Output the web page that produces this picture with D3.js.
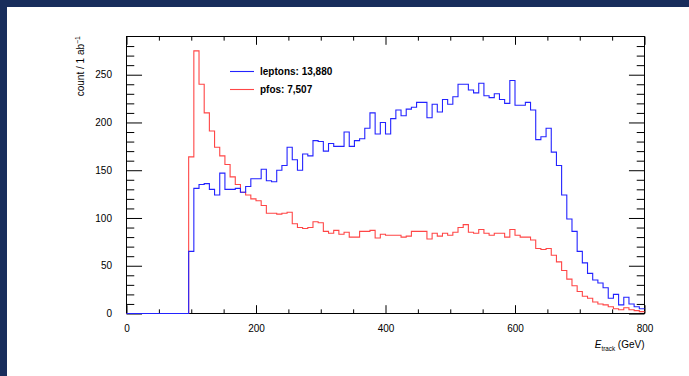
<!DOCTYPE html>
<html>
<head>
<meta charset="utf-8">
<script src="https://cdn.jsdelivr.net/npm/d3@7"></script>
<style>
  html, body { margin: 0; padding: 0; background: #ffffff; }
  svg { display: block; font-family: "Liberation Sans", Arial, Helvetica, sans-serif; }
</style>
</head>
<body>
<svg id="chart" width="689" height="376"></svg>
<script>
// Histogram binning: 100 bins of 8 GeV between 0 and 800 GeV
const xDomain = [0, 800];
const binWidth = 8;
const yDomain = [0, 290];

// Counts per 8 GeV bin (per 1 ab^-1)
const leptons = [
  0, 0, 0, 0, 0, 0, 0, 0, 0, 0, 0, 0,
  65, 131, 135, 136, 130, 124, 147, 130, 130, 131,
  127, 133, 141, 141, 151, 139, 138, 150, 155, 174,
  161, 150, 167, 165, 181, 180, 170, 178, 175, 175,
  190, 175, 181, 183, 194, 210, 188, 200, 188, 204,
  213, 207, 214, 216, 221, 221, 205, 219, 211, 224,
  219, 227, 240, 240, 234, 231, 241, 228, 226, 230,
  224, 220, 244, 218, 218, 221, 213, 182, 185, 194,
  169, 155, 124, 99, 86, 65, 53, 42, 35, 32,
  27, 16, 20, 9, 17, 10, 7, 5
];
const pfos = [
  0, 0, 0, 0, 0, 0, 0, 0, 0, 0, 0, 0,
  164, 275, 240, 210, 191, 174, 165, 156, 143, 135,
  127, 124, 120, 118, 113, 105, 105, 104, 105, 106,
  94, 90, 89, 90, 96, 95, 86, 84, 87, 83,
  85, 80, 80, 86, 86, 87, 79, 83, 82, 82,
  82, 80, 81, 86, 86, 86, 78, 84, 81, 84,
  82, 85, 90, 93, 85, 84, 88, 84, 82, 84,
  84, 80, 88, 82, 80, 80, 77, 68, 67, 68,
  61, 54, 45, 36, 29, 23, 18, 16, 12, 10,
  9, 7, 5, 4, 6, 4, 3, 2
];

const seriesNames = ["leptons", "pfos"];
const seriesColors = ["#2323ff", "#ff4646"];

const xMajorTicks = [0, 200, 400, 600, 800];
const yMajorTicks = [0, 50, 100, 150, 200, 250];

const svg = d3.select("#chart");
const W = 689, H = 376;

// Page frame: dark band along the top and left edges
svg.append("rect").attr("x", 0).attr("y", 0).attr("width", W).attr("height", H).attr("fill", "#ffffff");
svg.append("rect").attr("x", 0).attr("y", 0).attr("width", W).attr("height", 7).attr("fill", "#182d5c");
svg.append("rect").attr("x", 0).attr("y", 0).attr("width", 7).attr("height", H).attr("fill", "#182d5c");

const plot = { left: 126.5, right: 644.5, top: 36.5, bottom: 313.5 };
const x = d3.scaleLinear().domain(xDomain).range([plot.left, plot.right]);
const y = d3.scaleLinear().domain(yDomain).range([plot.bottom, plot.top]);

const plotW = plot.right - plot.left, plotH = plot.bottom - plot.top;
const xTickMajor = 0.03 * plotH, xTickMinor = xTickMajor / 2;
const yTickMajor = 0.03 * plotW, yTickMinor = yTickMajor / 2;

const xMinor = d3.range(xDomain[0], xDomain[1] + 1, 50).filter(v => !xMajorTicks.includes(v));
const yMinor = d3.range(0, yDomain[1], 10).filter(v => !yMajorTicks.includes(v));

// Axes: ticks drawn inward on all four sides
const tickStyle = g => {
  g.select(".domain").remove();
  g.selectAll(".tick line").attr("stroke", "#000").attr("stroke-width", 1);
  g.selectAll(".tick text").attr("fill", "#000").attr("font-size", 10);
};

svg.append("g").attr("transform", `translate(0,${plot.bottom})`)
  .call(d3.axisBottom(x).tickValues(xMajorTicks).tickSize(-xTickMajor).tickPadding(12).tickFormat(d3.format("d")))
  .call(tickStyle)
  .call(g => g.selectAll(".tick text").attr("dy", "0.71em").attr("y", 11));
svg.append("g").attr("transform", `translate(0,${plot.bottom})`)
  .call(d3.axisBottom(x).tickValues(xMinor).tickSize(-xTickMinor).tickFormat(""))
  .call(tickStyle);
svg.append("g").attr("transform", `translate(0,${plot.top})`)
  .call(d3.axisTop(x).tickValues(xMajorTicks).tickSize(-xTickMajor).tickFormat(""))
  .call(tickStyle);
svg.append("g").attr("transform", `translate(0,${plot.top})`)
  .call(d3.axisTop(x).tickValues(xMinor).tickSize(-xTickMinor).tickFormat(""))
  .call(tickStyle);

svg.append("g").attr("transform", `translate(${plot.left},0)`)
  .call(d3.axisLeft(y).tickValues(yMajorTicks).tickSize(-yTickMajor).tickPadding(14.5).tickFormat(d3.format("d")))
  .call(tickStyle);
svg.append("g").attr("transform", `translate(${plot.left},0)`)
  .call(d3.axisLeft(y).tickValues(yMinor).tickSize(-yTickMinor).tickFormat(""))
  .call(tickStyle);
svg.append("g").attr("transform", `translate(${plot.right},0)`)
  .call(d3.axisRight(y).tickValues(yMajorTicks).tickSize(-yTickMajor).tickFormat(""))
  .call(tickStyle);
svg.append("g").attr("transform", `translate(${plot.right},0)`)
  .call(d3.axisRight(y).tickValues(yMinor).tickSize(-yTickMinor).tickFormat(""))
  .call(tickStyle);

// Frame
svg.append("rect")
  .attr("x", plot.left).attr("y", plot.top)
  .attr("width", plotW).attr("height", plotH)
  .attr("fill", "none").attr("stroke", "#000").attr("stroke-width", 1);

// Step outline of a histogram through the scales
function stepPoints(values) {
  const pts = [[xDomain[0], 0]];
  values.forEach((v, i) => {
    const lo = xDomain[0] + i * binWidth;
    pts.push([lo, v], [lo + binWidth, v]);
  });
  return pts;
}
const line = d3.line().x(d => x(d[0])).y(d => y(d[1]));

// Histograms drawn over the frame (pfos first, leptons on top)
const histG = svg.append("g");
[[pfos, seriesColors[1]], [leptons, seriesColors[0]]].forEach(([vals, color]) => {
  histG.append("path")
    .attr("d", line(stepPoints(vals)))
    .attr("fill", "none")
    .attr("stroke", color)
    .attr("stroke-width", 1.1)
    .attr("stroke-linejoin", "miter");
});

// Axis titles
const xt = svg.append("text")
  .attr("x", plot.right).attr("y", 348)
  .attr("text-anchor", "end").attr("font-size", 10).attr("fill", "#000");
xt.append("tspan").attr("font-style", "italic").text("E");
xt.append("tspan").attr("font-size", 6.3).attr("dy", 2.5).text("track");
xt.append("tspan").attr("dy", -2.5).text(" (GeV)");

const yt = svg.append("text")
  .attr("transform", `translate(84,${plot.top - 0.5}) rotate(-90)`)
  .attr("text-anchor", "end").attr("font-size", 10).attr("fill", "#000");
yt.append("tspan").text("count / 1 ab");
yt.append("tspan").attr("font-size", 7).attr("dy", -4).text("\u22121");

// Legend with integrated counts
const fmt = d3.format(",");
const legendData = [
  { name: seriesNames[0], color: seriesColors[0], total: d3.sum(leptons) },
  { name: seriesNames[1], color: seriesColors[1], total: d3.sum(pfos) }
];
const lg = svg.append("g");
legendData.forEach((d, i) => {
  const ly = 71.5 + i * 18;
  lg.append("line")
    .attr("x1", 230).attr("x2", 254).attr("y1", ly).attr("y2", ly)
    .attr("stroke", d.color).attr("stroke-width", 1.1);
  lg.append("text")
    .attr("x", 260).attr("y", ly + 3.6)
    .attr("font-size", 10).attr("font-weight", "bold").attr("fill", "#000")
    .text(`${d.name}: ${fmt(d.total)}`);
});
</script>
</body>
</html>
